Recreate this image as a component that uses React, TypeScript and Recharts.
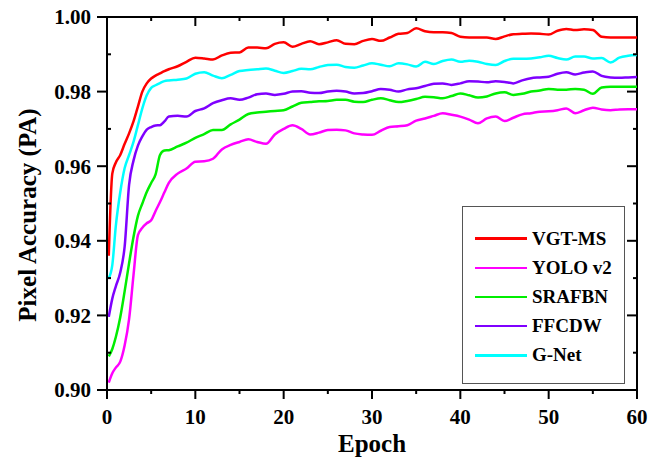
import React from 'react';
import { LineChart, Line, XAxis, YAxis, Legend, ReferenceArea } from 'recharts';

// epochs sampled off the figure (denser in the fast-rising start)
const epochs = [
  0.2, 0.6, 1, 1.5, 2, 2.5, 3, 3.5, 4, 4.5, 5, 5.5, 6, 6.5, 7,
  8, 9, 10, 11, 12, 13, 14, 15, 16, 17, 18, 19, 20, 21, 22, 23, 24, 25, 26, 27,
  28, 29, 30, 31, 32, 33, 34, 35, 36, 37, 38, 39, 40, 41, 42, 43, 44, 45, 46, 47,
  48, 49, 50, 51, 52, 53, 54, 55, 56, 57, 58, 59, 60,
];

const vgtMs = [
  0.936, 0.958, 0.961, 0.963, 0.966, 0.9688, 0.972, 0.976, 0.98, 0.9822, 0.9835, 0.9843, 0.9849, 0.9855, 0.986,
  0.9868, 0.988, 0.9891, 0.9889, 0.9886, 0.9897, 0.9904, 0.9905, 0.9918, 0.9918, 0.9916, 0.9928, 0.9932, 0.992, 0.9928, 0.9935, 0.9927, 0.9932, 0.9938, 0.9928,
  0.9927, 0.9936, 0.9941, 0.9936, 0.9945, 0.9955, 0.9957, 0.997, 0.9962, 0.9959, 0.9959, 0.9957, 0.9947, 0.9945, 0.9945, 0.9945, 0.9941, 0.9948, 0.9954, 0.9955,
  0.9956, 0.9955, 0.9953, 0.9963, 0.9968, 0.9965, 0.9967, 0.9965, 0.9947, 0.9945, 0.9945, 0.9945, 0.9945,
];

const yoloV2 = [
  0.902, 0.9045, 0.906, 0.9076, 0.912, 0.919, 0.9308, 0.9415, 0.9435, 0.9447, 0.9455, 0.948, 0.9504, 0.953, 0.9555,
  0.958, 0.9594, 0.9612, 0.9613, 0.962, 0.9645, 0.9657, 0.9665, 0.9672, 0.9665, 0.966, 0.9685, 0.97, 0.971, 0.97, 0.9685, 0.969, 0.9697, 0.9698, 0.9696,
  0.9688, 0.9685, 0.9684, 0.9695, 0.9705, 0.9707, 0.971, 0.9722, 0.9728, 0.9735, 0.9742, 0.9738, 0.9733, 0.9725, 0.9715, 0.9728, 0.9733, 0.9721, 0.973, 0.9739,
  0.9742, 0.9746, 0.9747, 0.975, 0.9755, 0.9742, 0.975, 0.9757, 0.9752, 0.975, 0.9752, 0.9753, 0.9753,
];

const srafbn = [
  0.909, 0.911, 0.9142, 0.9195, 0.9265, 0.934, 0.941, 0.9467, 0.95, 0.9531, 0.9555, 0.9578, 0.963, 0.9642, 0.9643,
  0.9653, 0.9663, 0.9676, 0.9686, 0.9697, 0.9697, 0.9712, 0.9725, 0.974, 0.9744, 0.9746, 0.9748, 0.975, 0.976, 0.977, 0.9772, 0.9774, 0.9775, 0.9778, 0.9778,
  0.9773, 0.9772, 0.9778, 0.9782, 0.9777, 0.9772, 0.9775, 0.978, 0.9786, 0.9785, 0.9782, 0.9788, 0.9795, 0.979, 0.9784, 0.9787, 0.9795, 0.9798, 0.9791, 0.9794,
  0.98, 0.9803, 0.9807, 0.9805, 0.9805, 0.9807, 0.9805, 0.9794, 0.9811, 0.9813, 0.9813, 0.9813, 0.9813,
];

const ffcdw = [
  0.9196, 0.9245, 0.9278, 0.9315, 0.9385, 0.955, 0.9615, 0.9655, 0.968, 0.9698, 0.9705, 0.9709, 0.971, 0.972, 0.9733,
  0.9735, 0.9733, 0.9748, 0.9755, 0.9769, 0.9777, 0.9782, 0.9778, 0.9784, 0.9793, 0.9795, 0.9791, 0.9794, 0.98, 0.9801, 0.9797, 0.9796, 0.98, 0.9802, 0.98,
  0.9795, 0.9796, 0.9801, 0.9807, 0.9805, 0.98, 0.9806, 0.9809, 0.9815, 0.9821, 0.9822, 0.9818, 0.9822, 0.9828, 0.9827, 0.9825, 0.9828, 0.9826, 0.9822, 0.983,
  0.9836, 0.9838, 0.984, 0.9848, 0.9852, 0.9846, 0.9851, 0.9854, 0.9842, 0.9838, 0.9837, 0.9838, 0.9839,
];

const gNet = [
  0.93, 0.9335, 0.944, 0.953, 0.9595, 0.963, 0.9665, 0.971, 0.9755, 0.979, 0.981, 0.9817, 0.9823, 0.9828, 0.983,
  0.9832, 0.9835, 0.9848, 0.9852, 0.9843, 0.9836, 0.9845, 0.9855, 0.9858, 0.986, 0.9862, 0.9856, 0.985, 0.9855, 0.9861, 0.986, 0.9866, 0.9871, 0.9872, 0.9866,
  0.9864, 0.987, 0.9876, 0.9872, 0.9868, 0.9876, 0.9873, 0.9867, 0.988, 0.9874, 0.9882, 0.9886, 0.988, 0.9883, 0.988, 0.9874, 0.9871, 0.9882, 0.9888, 0.9888,
  0.9889, 0.9892, 0.9896, 0.989, 0.9886, 0.9894, 0.9894, 0.9889, 0.989, 0.9878, 0.9891, 0.9896, 0.9898,
];

const seriesKeys = ['vgt', 'yolo', 'srafbn', 'ffcdw', 'gnet'];
const seriesNames = ['VGT-MS', 'YOLO v2', 'SRAFBN', 'FFCDW', 'G-Net'];
const seriesColors = ['#ff0000', '#ff00ff', '#00ee00', '#7f00ff', '#00ffff'];

const xTicks = [0, 5, 10, 15, 20, 25, 30, 35, 40, 45, 50, 55, 60];
const yTicks = [0.9, 0.91, 0.92, 0.93, 0.94, 0.95, 0.96, 0.97, 0.98, 0.99, 1.0];

const data = epochs.map((e, i) => ({
  epoch: e,
  vgt: vgtMs[i],
  yolo: yoloV2[i],
  srafbn: srafbn[i],
  ffcdw: ffcdw[i],
  gnet: gNet[i],
}));

const FONT = "'Liberation Serif', 'DejaVu Serif', 'Noto Serif', serif";
// frame of the plot area in px
const PLOT = { left: 107, right: 637, top: 17, bottom: 390 };

const textStyle = { fontFamily: FONT, fontWeight: 700 };

const XTick = (props: any) => {
  const { x, payload } = props;
  const v = payload.value;
  const major = v % 10 === 0;
  return (
    <g>
      <line x1={x} x2={x} y1={PLOT.bottom} y2={PLOT.bottom + (major ? 9 : 4)} stroke="#000" strokeWidth={2} />
      <line x1={x} x2={x} y1={PLOT.top} y2={PLOT.top + (major ? 9 : 4)} stroke="#000" strokeWidth={2} />
      {major && (
        <text x={x} y={PLOT.bottom + 34} textAnchor="middle" style={textStyle} fontSize={21} fill="#000">
          {v}
        </text>
      )}
    </g>
  );
};

const YTick = (props: any) => {
  const { y, payload } = props;
  const v = payload.value;
  const major = Math.round(v * 100) % 2 === 0;
  return (
    <g>
      {major ? (
        <line x1={PLOT.left - 10} x2={PLOT.left} y1={y} y2={y} stroke="#000" strokeWidth={2} />
      ) : (
        <line x1={PLOT.left} x2={PLOT.left + 4} y1={y} y2={y} stroke="#000" strokeWidth={2} />
      )}
      <line x1={PLOT.right - (major ? 10 : 4)} x2={PLOT.right} y1={y} y2={y} stroke="#000" strokeWidth={2} />
      {major && (
        <text x={PLOT.left - 16} y={y} dy="0.35em" textAnchor="end" style={textStyle} fontSize={21} fill="#000">
          {v.toFixed(2)}
        </text>
      )}
    </g>
  );
};

const LegendBox = () => (
  <div
    style={{
      width: 163,
      height: 178,
      boxSizing: 'border-box',
      border: '1.5px solid #555',
      background: '#fff',
      paddingTop: 17,
      fontFamily: FONT,
    }}
  >
    {seriesNames.map((name, i) => (
      <div key={name} style={{ display: 'flex', alignItems: 'center', height: 29.2 }}>
        <div style={{ width: 52, height: 2.5, background: seriesColors[i], marginLeft: 12 }} />
        <span style={{ marginLeft: 5, fontWeight: 700, fontSize: 19, color: '#000', fontFamily: FONT }}>{name}</span>
      </div>
    ))}
  </div>
);

const App: React.FC = () => {
  return (
    <div style={{ position: 'absolute', left: 0, top: 0, background: '#fff' }}>
      <LineChart width={662} height={466} data={data} margin={{ top: 17, right: 25, bottom: 0, left: 0 }}>
        <ReferenceArea x1={0} x2={60} y1={0.9} y2={1} fill="none" stroke="#000" strokeWidth={2} ifOverflow="visible" />
        <XAxis
          dataKey="epoch"
          type="number"
          domain={[0, 60]}
          ticks={xTicks}
          interval={0}
          height={76}
          tickLine={false}
          tick={<XTick />}
          axisLine={{ stroke: '#000', strokeWidth: 2 }}
          label={{
            content: () => (
              <text x={(PLOT.left + PLOT.right) / 2} y={452} textAnchor="middle" style={textStyle} fontSize={25} fill="#000">
                Epoch
              </text>
            ),
          }}
        />
        <YAxis
          type="number"
          domain={[0.9, 1]}
          ticks={yTicks}
          interval={0}
          width={107}
          tickLine={false}
          tick={<YTick />}
          axisLine={{ stroke: '#000', strokeWidth: 2 }}
          label={{
            content: () => (
              <text
                x={36}
                y={215}
                transform="rotate(-90, 36, 215)"
                textAnchor="middle"
                style={textStyle}
                fontSize={25}
                fill="#000"
              >
                Pixel Accuracy (PA)
              </text>
            ),
          }}
        />
        {seriesKeys.map((k, i) => (
          <Line
            key={k}
            type="monotone"
            dataKey={k}
            name={seriesNames[i]}
            stroke={seriesColors[i]}
            strokeWidth={2.5}
            dot={false}
            isAnimationActive={false}
          />
        ))}
        <Legend
          verticalAlign="middle"
          align="center"
          content={() => <LegendBox />}
          wrapperStyle={{ left: 462, top: 206, width: 163, height: 178 }}
        />
      </LineChart>
    </div>
  );
};

export default App;
